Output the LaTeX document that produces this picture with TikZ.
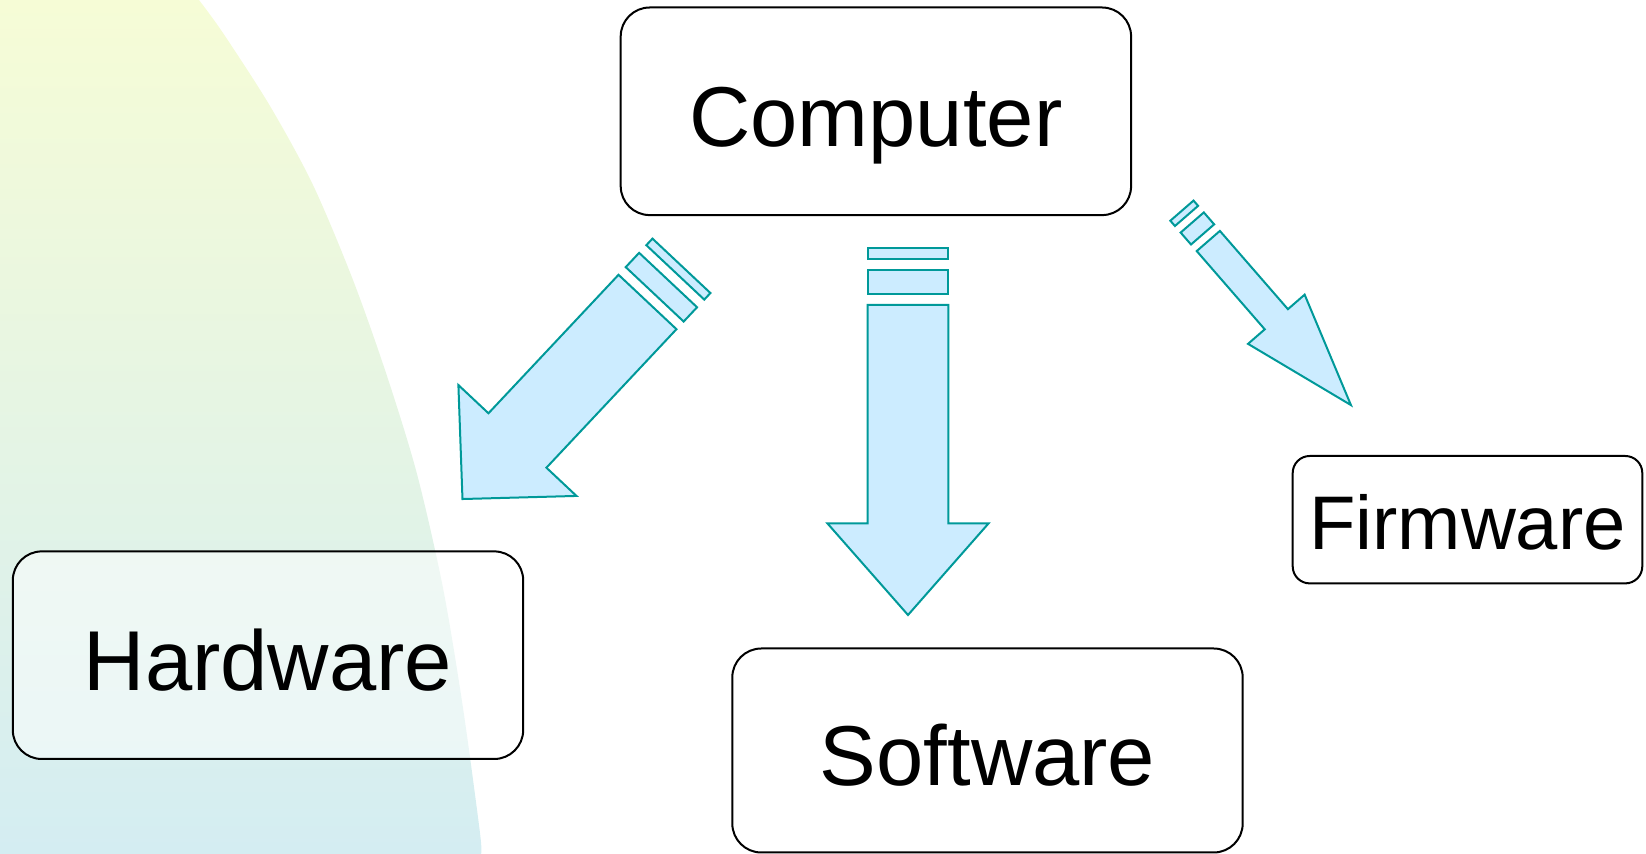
\documentclass[tikz,border=0pt]{standalone}
\usepackage{fontspec}
\setmainfont{Liberation Sans}
\usepackage{xcolor}
\usepackage{tikz}
\usetikzlibrary{calc}
\definecolor{arrowfill}{RGB}{204,236,255}
\definecolor{arrowline}{RGB}{0,153,153}
\definecolor{bgtop}{RGB}{246,252,214}
\definecolor{bgbottom}{RGB}{212,237,242}

\tikzset{
  box/.style={draw, line width=1pt, rounded corners=14.5pt,
    minimum width=255.2pt, minimum height=103.8pt,
    font=\fontsize{42.5}{50}\selectfont, text height=35pt, text depth=0pt},
  arrowshape/.style={draw=arrowline, fill=arrowfill, line width=1pt}
}

% 条纹箭头：起点  角度  杆宽  头宽  杆长  头长  细条  粗条  间隙
\newcommand{\stripedarrow}[9]{%
  \begin{scope}[shift={(#1)}, rotate=#2]
    \draw[arrowshape] (-#3/2,-2*#9-#8) rectangle (#3/2,-2*#9-#8-#7);
    \draw[arrowshape] (-#3/2,-#9) rectangle (#3/2,-#9-#8);
    \draw[arrowshape] (-#3/2,0) -- (-#3/2,#5) -- (-#4/2,#5) -- (0,#5+#6)
      -- (#4/2,#5) -- (#3/2,#5) -- (#3/2,0) -- cycle;
  \end{scope}}

\begin{document}
\begin{tikzpicture}[x=0.5pt, y=-0.5pt]
    \useasboundingbox (0,0) rectangle (1646,854);

    % 左侧渐变背景
    \shade[top color=bgtop, bottom color=bgbottom]
      (0,0) -- plot[smooth] coordinates {(199,0) (223,33) (270,106) (313,185)
        (353,280) (387,376) (417,474) (443,588) (463,708) (480,833) (481,854)}
      -- (0,854) -- cycle;

    % 四个方框
    \node[box] (computer) at (875.9,111.3) {Computer};
    \node[box, fill=white, fill opacity=0.5, text opacity=1] (hardware) at (268,655.2) {Hardware};
    \node[box, minimum height=102pt] (software) at (987.5,750.5) {Software};
    \node[box, minimum width=174.8pt, minimum height=63.7pt, rounded corners=8.5pt,
      font=\fontsize{38}{45}\selectfont, text height=30pt] (firmware) at (1467.5,519.7) {Firmware};

    % 三个条纹箭头
    \stripedarrow{647.5,302}{-43.2}{79.5}{162}{190}{80.3}{9}{19.6}{10.5}
    \stripedarrow{908,305}{0}{80.6}{161.3}{218.3}{91.7}{11.6}{23.4}{11.2}
    \stripedarrow{1208.3,241}{41}{30.7}{75}{103.7}{113.7}{7}{15.8}{8.7}
\end{tikzpicture}
\end{document}
